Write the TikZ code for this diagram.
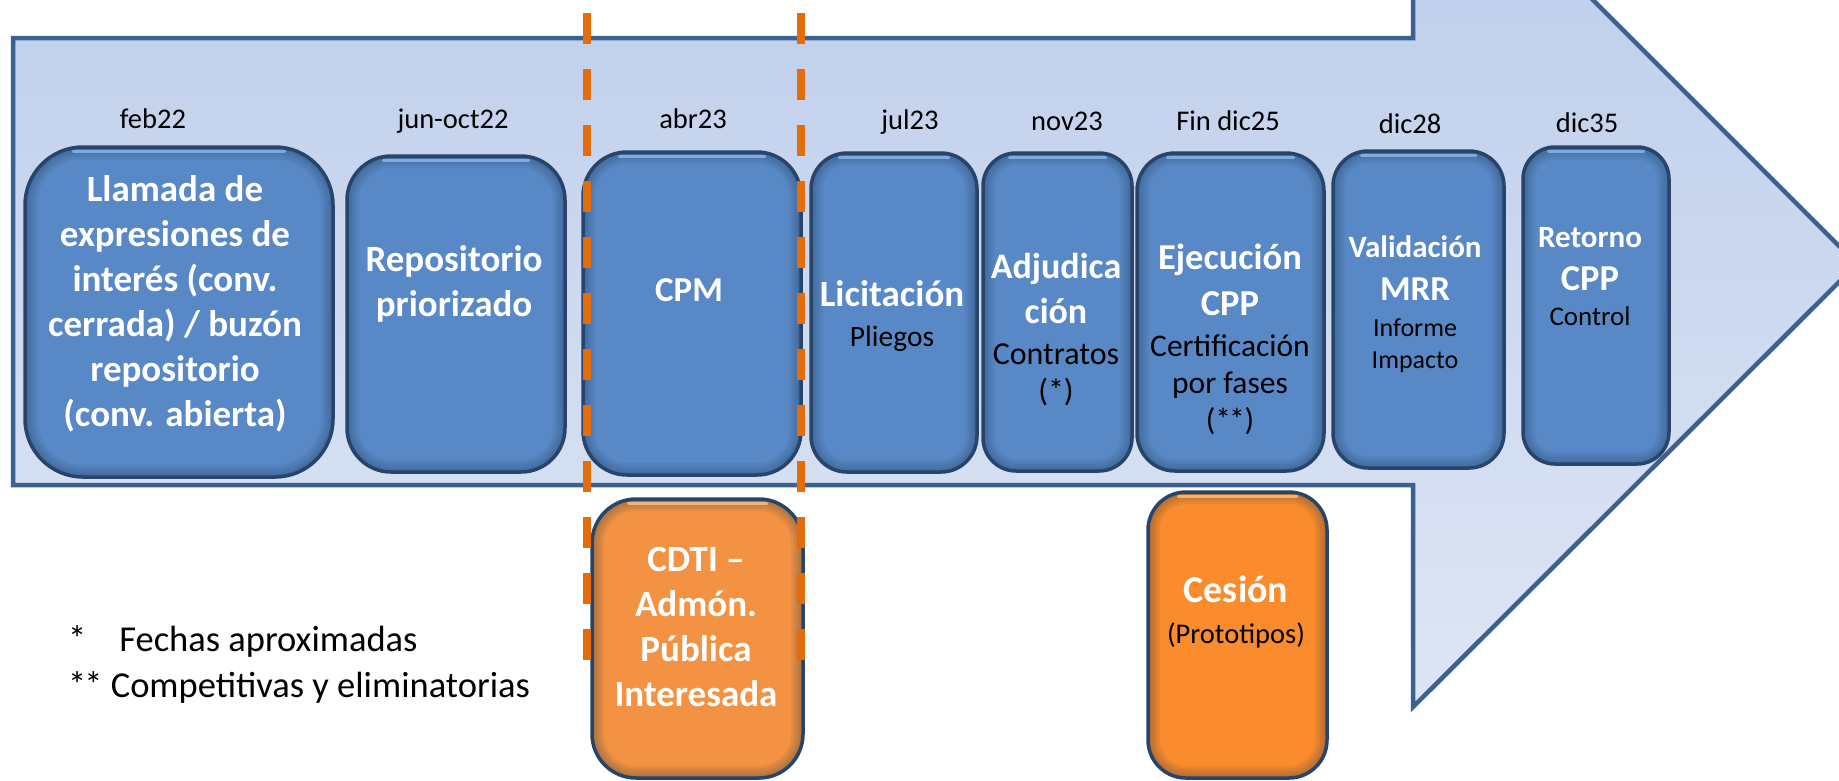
\documentclass[tikz,border=0pt]{standalone}
\usepackage{fontspec}
\setmainfont{Carlito}
\usetikzlibrary{fit}
\definecolor{boxblue}{HTML}{5889C6}
\definecolor{boxedge}{HTML}{27446A}
\definecolor{shadowc}{HTML}{1B2F4A}
\definecolor{arrtop}{HTML}{B9CAEA}
\definecolor{arrbot}{HTML}{DEE6F4}
\definecolor{arredge}{HTML}{3C6091}
\definecolor{orangeA}{HTML}{F39242}
\definecolor{orangeB}{HTML}{FA8C2D}
\definecolor{dashorange}{HTML}{E46C0A}
\definecolor{hlblue}{HTML}{8DB8EE}
\definecolor{hlorange}{HTML}{FFC384}
\newcommand\myb[1]{\fontsize{#1}{#1}\selectfont\bfseries}
\newcommand\myr[1]{\fontsize{#1}{#1}\selectfont}
\newcommand\boxhl[3]{\draw[hl, #3] ([xshift=#2,yshift=-6pt]#1.north west) -- ([xshift=-#2,yshift=-6pt]#1.north east);}
\tikzset{
  arrowshape/.style={draw=arredge, line width=4.5pt, line join=miter, top color=arrtop, bottom color=arrbot},
  bevel/.style={path picture={
      \foreach \w in {24,19,14,9,5}{
        \draw[shadowc, opacity=0.07, line width=\w pt, rounded corners=#1]
          (path picture bounding box.south west) rectangle (path picture bounding box.north east);
      }
    }},
  bluebox/.style={draw=boxedge, line width=3.5pt, fill=boxblue, inner sep=0pt, rounded corners=#1, bevel=#1},
  orangebox/.style={draw=boxedge, line width=3.5pt, inner sep=0pt, rounded corners=#1, bevel=#1},
  hl/.style={line width=3pt, line cap=round, opacity=0.8},
  wt/.style={text=white, anchor=base, inner sep=0pt},
  bt/.style={text=black, anchor=base, inner sep=0pt},
  datet/.style={text=black, anchor=base, inner sep=0pt, font=\myr{28.5}},
  orangedash/.style={draw=dashorange, line width=8pt, dash pattern=on 31pt off 25pt}
}
\begin{document}
\begin{tikzpicture}[x=1pt,y=-1pt]
\useasboundingbox (0,0) rectangle (1839,780);
\clip (0,0) rectangle (1839,780);

% big arrow
\draw[arrowshape] (13,38) -- (1413,38) -- (1413,-180) -- (1857,264) -- (1413,707) -- (1413,485) -- (13,485) -- cycle;

% dates
\node[datet] (d1) at (153,128.5) {feb22};
\node[datet] (d2) at (453,128) {jun-oct22};
\node[datet] (d3) at (693,128.5) {abr23};
\node[datet] (d4) at (910,129.5) {jul23};
\node[datet] (d5) at (1067,130.5) {nov23};
\node[datet] (d6) at (1228,130) {Fin dic25};
\node[datet] (d7) at (1410,133) {dic28};
\node[datet] (d8) at (1587,132.5) {dic35};

% blue boxes
\node[bluebox=58pt, fit={(25,147) (333,477)}] (b1) {};
\boxhl{b1}{50pt}{hlblue}
\node[bluebox=44pt, fit={(347,156) (565,472)}] (b2) {};
\boxhl{b2}{38pt}{hlblue}
\node[bluebox=44pt, fit={(583,152) (801,475)}] (b3) {};
\boxhl{b3}{38pt}{hlblue}
\node[bluebox=36pt, fit={(811,153) (977,472)}] (b4) {};
\boxhl{b4}{30pt}{hlblue}
\node[bluebox=33pt, fit={(983,153) (1132,471)}] (b5) {};
\boxhl{b5}{28pt}{hlblue}
\node[bluebox=38pt, fit={(1137,153) (1324,471)}] (b6) {};
\boxhl{b6}{32pt}{hlblue}
\node[bluebox=35pt, fit={(1333,151) (1504,468)}] (b7) {};
\boxhl{b7}{30pt}{hlblue}
\node[bluebox=32pt, fit={(1523,147) (1669,464)}] (b8) {};
\boxhl{b8}{27pt}{hlblue}

% orange boxes
\node[orangebox=44pt, fill=orangeA, fit={(592,499) (803,778)}] (o1) {};
\boxhl{o1}{38pt}{hlorange}
\node[orangebox=38pt, fill=orangeB, fit={(1148,492) (1327,778)}] (o2) {};
\boxhl{o2}{32pt}{hlorange}

% texts box 1
\node[wt, font=\myb{37}] (t1a) at (175,201.5) {Llamada de};
\node[wt, font=\myb{37}] (t1b) at (175,246.5) {expresiones de};
\node[wt, font=\myb{37}] (t1c) at (175,291.5) {interés (conv.};
\node[wt, font=\myb{37}] (t1d) at (175,336.5) {cerrada) / buzón};
\node[wt, font=\myb{37}] (t1e) at (175,381.5) {repositorio};
\node[wt, font=\myb{37}] (t1f) at (175,426.5) {(conv. abierta)};
% box 2
\node[wt, font=\myb{37}] (t2a) at (454,271) {Repositorio};
\node[wt, font=\myb{37}] (t2b) at (454,316) {priorizado};
% box 3
\node[wt, font=\myb{35}] (t3a) at (689,301.5) {CPM};
% box 4
\node[wt, font=\myb{37}] (t4a) at (892,306) {Licitación};
\node[bt, font=\myr{29.5}] (t4b) at (892,346.5) {Pliegos};
% box 5
\node[wt, font=\myb{36}] (t5a) at (1056,278) {Adjudica};
\node[wt, font=\myb{36}] (t5b) at (1056,323) {ción};
\node[bt, font=\myr{32}] (t5c) at (1056,364) {Contratos};
\node[bt, font=\myr{32}] (t5d) at (1056,401.5) {(*)};
% box 6
\node[wt, font=\myb{36.5}] (t6a) at (1230,269) {Ejecución};
\node[wt, font=\myb{36.5}] (t6b) at (1230,315) {CPP};
\node[bt, font=\myr{31.5}] (t6c) at (1230,356) {Certificación};
\node[bt, font=\myr{31.5}] (t6d) at (1230,393) {por fases};
\node[bt, font=\myr{31.5}] (t6e) at (1230,430) {(*\kern-2pt*)};
% box 7
\node[wt, font=\myb{31}] (t7a) at (1415,257) {Validación};
\node[wt, font=\myb{35}] (t7b) at (1415,300) {MRR};
\node[bt, font=\myr{26}] (t7c) at (1415,336) {Informe};
\node[bt, font=\myr{26}] (t7d) at (1415,368.5) {Impacto};
% box 8
\node[wt, font=\myb{31}] (t8a) at (1590,247) {Retorno};
\node[wt, font=\myb{36.5}] (t8b) at (1590,290) {CPP};
\node[bt, font=\myr{27}] (t8c) at (1590,325) {Control};
% orange 1
\node[wt, font=\myb{37}] (u1a) at (696,571.5) {CDTI –};
\node[wt, font=\myb{37}] (u1b) at (696,616.5) {Admón.};
\node[wt, font=\myb{37}] (u1c) at (696,661.5) {Pública};
\node[wt, font=\myb{37}] (u1d) at (696,706) {Interesada};
% orange 2
\node[wt, font=\myb{38}] (u2a) at (1236,602.5) {Cesión};
\node[bt, font=\myr{28.5}] (u2b) at (1236,643) {(Prototipos)};

% footnotes
\node[anchor=base west, inner sep=0pt, font=\myr{36.5}] (fn1) at (68,651) {*\hspace{33pt}Fechas aproximadas};
\node[anchor=base west, inner sep=0pt, font=\myr{36.5}] (fn2) at (68,697) {*\kern-2pt* Competitivas y eliminatorias};

% dashed orange lines
\coordinate (dl1t) at (586.7,13);
\coordinate (dl1b) at (586.7,660);
\coordinate (dl2t) at (800.7,13);
\coordinate (dl2b) at (800.7,660);
\draw[orangedash] (dl1t) -- (dl1b);
\draw[orangedash] (dl2t) -- (dl2b);
\end{tikzpicture}
\end{document}
